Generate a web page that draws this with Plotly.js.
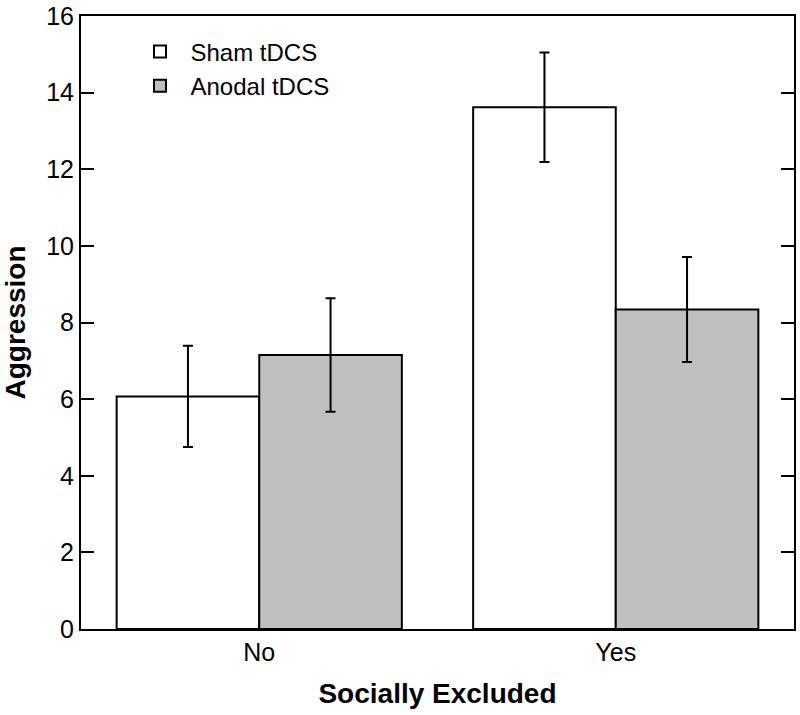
<!DOCTYPE html>
<html>
<head>
<meta charset="utf-8">
<script src="https://cdn.plot.ly/plotly-3.0.1.min.js"></script>
<style>html,body{margin:0;padding:0;background:#fff}#chart{width:800px;height:715px}</style>
</head>
<body>
<div id="chart"></div>
<script>
const categories = ["No", "Yes"];
const shamValues = [6.07, 13.62];
const shamErrors = [1.32, 1.43];
const anodalValues = [7.15, 8.34];
const anodalErrors = [1.48, 1.37];
const seriesNames = ["Sham tDCS", "Anodal tDCS"];
const yTicks = [0, 2, 4, 6, 8, 10, 12, 14, 16];

const FONT = "Liberation Sans, Arial, sans-serif";
const errStyle = {type: "data", visible: true, thickness: 2, width: 5, color: "#000"};

const traces = [
  {
    type: "bar", name: seriesNames[0], x: categories, y: shamValues,
    error_y: Object.assign({array: shamErrors}, errStyle),
    marker: {color: "#ffffff", line: {color: "#000", width: 2}}
  },
  {
    type: "bar", name: seriesNames[1], x: categories, y: anodalValues,
    error_y: Object.assign({array: anodalErrors}, errStyle),
    marker: {color: "#c0c0c0", line: {color: "#000", width: 2}}
  }
];

const layout = {
  width: 800, height: 715,
  margin: {l: 81, r: 6, t: 16, b: 86},
  paper_bgcolor: "#fff", plot_bgcolor: "#fff",
  font: {family: FONT, color: "#000", size: 24},
  barmode: "group", bargap: 0.2, bargroupgap: 0,
  showlegend: true,
  legend: {x: 0.068, y: 0.978, xanchor: "left", yanchor: "top",
           itemwidth: 51,
           font: {family: FONT, size: 24, color: "#000"},
           bgcolor: "rgba(0,0,0,0)", borderwidth: 0, tracegroupgap: 0},
  xaxis: {
    type: "category", range: [-0.5, 1.5],
    showline: true, linecolor: "#000", linewidth: 2, mirror: true,
    ticks: "", showgrid: false, zeroline: false,
    tickfont: {family: FONT, size: 25, color: "#000"},
    ticklabelstandoff: 0,
    title: {text: "<b>Socially Excluded</b>", font: {family: FONT, size: 28, color: "#000"}, standoff: 18}
  },
  yaxis: {
    range: [0, 16], tickvals: yTicks, ticktext: yTicks.map(String),
    showline: true, linecolor: "#000", linewidth: 2, mirror: "ticks",
    ticks: "inside", ticklen: 13, tickwidth: 2, tickcolor: "#000",
    showgrid: false, zeroline: false,
    tickfont: {family: FONT, size: 25, color: "#000"},
    title: {text: "<b>Aggression</b>", font: {family: FONT, size: 28, color: "#000"}, standoff: 16}
  }
};

Plotly.newPlot("chart", traces, layout, {displayModeBar: false, staticPlot: true});
</script>
</body>
</html>
